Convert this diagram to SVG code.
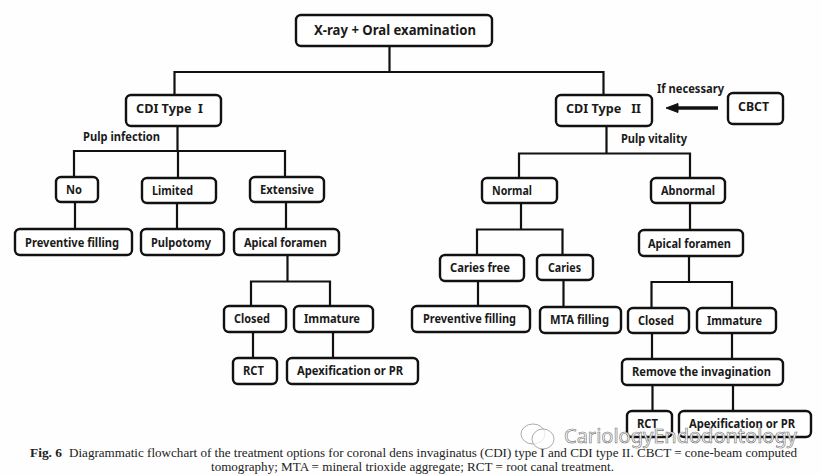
<svg xmlns="http://www.w3.org/2000/svg" width="821" height="475" viewBox="0 0 821 475">
<style>
.b{fill:#fff;stroke:#111;stroke-width:2.4}
.t{font-family:"Noto Sans","DejaVu Sans",sans-serif;font-weight:700;font-size:12.5px;fill:#1a1a1a}
.c{fill:none;stroke:#111;stroke-width:2.2}
.cap{font-family:"Liberation Serif",serif;font-size:12.5px;fill:#222}
.wm{font-family:"Noto Sans","Liberation Sans",sans-serif;font-size:20px;fill:#fff;stroke:#6f6f6f;stroke-width:.6}
.wi{fill:#fff;fill-opacity:.75;stroke:#888;stroke-width:.7}
</style>
<rect width="821" height="475" fill="#fefefe"/>
<g id="connectors" class="c">
<path d="M389.500 46V72M174.500 95V72H603.500V95"/>
<path d="M177.500 126V151M74 177V151H285V177M178 151V178"/>
<path d="M75 202V229M177 203V229M286 202V229"/>
<path d="M287.500 255V281.500M251 306V281.500H330V306"/>
<path d="M253 332V358M333 332V358"/>
<path d="M606.500 126V153.500M519 178V153.500H690V178"/>
<path d="M521 203V229.500M477 255V229.500H562.500V255"/>
<path d="M478 281V306M563.500 280V307"/>
<path d="M690 203V230M689 256V282M651.500 308V282H732V308"/>
<path d="M652 333V359M732 333V359M652.500 385V411M733 385V411"/>
<path d="M718 108H678" stroke-width="3.400"/>
<path d="M666 108L678 103.500V112.500Z" fill="#111" stroke-width="1"/>
</g>
<g id="n-xray"><rect class="b" x="296" y="15" width="196" height="31" rx="5"/><text class="t" x="314" y="35" textLength="162" lengthAdjust="spacingAndGlyphs" style="font-size:14.5px">X-ray + Oral examination</text></g>
<g id="n-cdi1"><rect class="b" x="126" y="95" width="95" height="31" rx="5"/><text class="t" x="136" y="113" textLength="67" lengthAdjust="spacingAndGlyphs" xml:space="preserve">CDI Type  I</text></g>
<g id="n-cdi2"><rect class="b" x="556" y="95" width="96" height="31" rx="5"/><text class="t" x="566" y="113" textLength="75" lengthAdjust="spacingAndGlyphs" xml:space="preserve">CDI Type   II</text></g>
<g id="n-cbct"><rect class="b" x="728" y="93" width="55" height="31" rx="5"/><text class="t" x="738" y="111" textLength="31" lengthAdjust="spacingAndGlyphs">CBCT</text></g>
<g id="l-labels">
<text class="t" x="657" y="93" textLength="67" lengthAdjust="spacingAndGlyphs">If necessary</text>
<text class="t" x="83" y="141" textLength="77" lengthAdjust="spacingAndGlyphs">Pulp infection</text>
<text class="t" x="621" y="143" textLength="66" lengthAdjust="spacingAndGlyphs">Pulp vitality</text>
</g>
<g id="n-no"><rect class="b" x="56" y="177" width="42" height="25" rx="5"/><text class="t" x="66" y="194" textLength="16" lengthAdjust="spacingAndGlyphs">No</text></g>
<g id="n-limited"><rect class="b" x="142" y="178" width="74" height="25" rx="5"/><text class="t" x="152" y="195" textLength="41" lengthAdjust="spacingAndGlyphs">Limited</text></g>
<g id="n-extensive"><rect class="b" x="250" y="177" width="74" height="25" rx="5"/><text class="t" x="260" y="194" textLength="54" lengthAdjust="spacingAndGlyphs">Extensive</text></g>
<g id="n-prev1"><rect class="b" x="15" y="229" width="117" height="26" rx="5"/><text class="t" x="25" y="247" textLength="94" lengthAdjust="spacingAndGlyphs">Preventive filling</text></g>
<g id="n-pulpotomy"><rect class="b" x="141" y="229" width="83" height="26" rx="5"/><text class="t" x="151" y="247" textLength="60" lengthAdjust="spacingAndGlyphs">Pulpotomy</text></g>
<g id="n-apical1"><rect class="b" x="234" y="229" width="105" height="26" rx="5"/><text class="t" x="244" y="247" textLength="83" lengthAdjust="spacingAndGlyphs">Apical foramen</text></g>
<g id="n-closed1"><rect class="b" x="224" y="306" width="62" height="26" rx="5"/><text class="t" x="234" y="323" textLength="36" lengthAdjust="spacingAndGlyphs">Closed</text></g>
<g id="n-immature1"><rect class="b" x="294" y="306" width="79" height="26" rx="5"/><text class="t" x="304" y="323" textLength="56" lengthAdjust="spacingAndGlyphs">Immature</text></g>
<g id="n-rct1"><rect class="b" x="233" y="358" width="44" height="26" rx="5"/><text class="t" x="243" y="375" textLength="21" lengthAdjust="spacingAndGlyphs">RCT</text></g>
<g id="n-apex1"><rect class="b" x="287" y="358" width="131" height="26" rx="5"/><text class="t" x="297" y="375" textLength="106" lengthAdjust="spacingAndGlyphs">Apexification or PR</text></g>
<g id="n-normal"><rect class="b" x="482" y="178" width="75" height="25" rx="5"/><text class="t" x="492" y="195" textLength="40" lengthAdjust="spacingAndGlyphs">Normal</text></g>
<g id="n-abnormal"><rect class="b" x="651" y="178" width="74" height="25" rx="5"/><text class="t" x="661" y="195" textLength="54" lengthAdjust="spacingAndGlyphs">Abnormal</text></g>
<g id="n-cariesfree"><rect class="b" x="440" y="255" width="84" height="26" rx="5"/><text class="t" x="450" y="272" textLength="60" lengthAdjust="spacingAndGlyphs">Caries free</text></g>
<g id="n-caries"><rect class="b" x="537" y="255" width="56" height="25" rx="5"/><text class="t" x="548" y="272" textLength="33" lengthAdjust="spacingAndGlyphs">Caries</text></g>
<g id="n-prev2"><rect class="b" x="412" y="306" width="118" height="26" rx="5"/><text class="t" x="423" y="323" textLength="93" lengthAdjust="spacingAndGlyphs">Preventive filling</text></g>
<g id="n-mta"><rect class="b" x="540" y="307" width="81" height="26" rx="5"/><text class="t" x="550" y="324" textLength="59" lengthAdjust="spacingAndGlyphs">MTA filling</text></g>
<g id="n-apical2"><rect class="b" x="639" y="230" width="104" height="26" rx="5"/><text class="t" x="648" y="248" textLength="83" lengthAdjust="spacingAndGlyphs">Apical foramen</text></g>
<g id="n-closed2"><rect class="b" x="628" y="308" width="61" height="25" rx="5"/><text class="t" x="638" y="325" textLength="36" lengthAdjust="spacingAndGlyphs">Closed</text></g>
<g id="n-immature2"><rect class="b" x="697" y="308" width="79" height="25" rx="5"/><text class="t" x="707" y="325" textLength="55" lengthAdjust="spacingAndGlyphs">Immature</text></g>
<g id="n-remove"><rect class="b" x="622" y="359" width="161" height="26" rx="5"/><text class="t" x="632" y="376" textLength="139" lengthAdjust="spacingAndGlyphs">Remove the invagination</text></g>
<g id="n-rct2"><rect class="b" x="627" y="411" width="45" height="26" rx="5"/><text class="t" x="637" y="428" textLength="21" lengthAdjust="spacingAndGlyphs">RCT</text></g>
<g id="n-apex2"><rect class="b" x="679" y="411" width="132" height="26" rx="5"/><text class="t" x="689" y="428" textLength="106" lengthAdjust="spacingAndGlyphs">Apexification or PR</text></g>
<g id="caption">
<text class="cap" x="30" y="457" textLength="32" lengthAdjust="spacingAndGlyphs" font-weight="700">Fig. 6</text>
<text class="cap" x="69" y="457" textLength="728" lengthAdjust="spacingAndGlyphs">Diagrammatic flowchart of the treatment options for coronal dens invaginatus (CDI) type I and CDI type II. CBCT = cone-beam computed</text>
<text class="cap" x="211" y="471" textLength="403" lengthAdjust="spacingAndGlyphs">tomography; MTA = mineral trioxide aggregate; RCT = root canal treatment.</text>
</g>
<g id="watermark">
<ellipse class="wi" cx="533" cy="434" rx="12" ry="10"/>
<ellipse class="wi" cx="543" cy="439" rx="11" ry="10"/>
<text class="wm" x="564" y="443" textLength="233" lengthAdjust="spacingAndGlyphs">CariologyEndodontology</text>
</g>
</svg>
